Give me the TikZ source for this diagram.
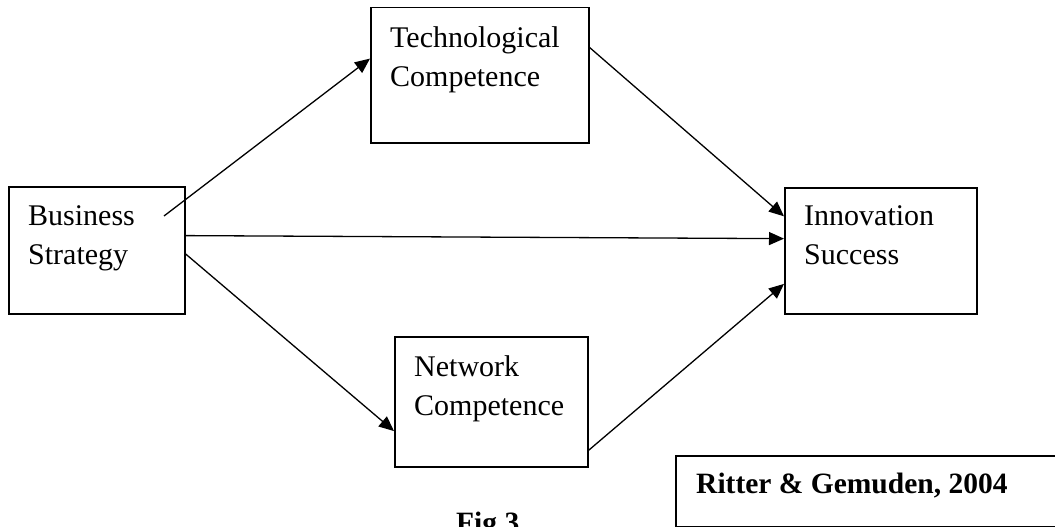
\documentclass[tikz,border=0pt]{standalone}
\usepackage{fontspec}
\setmainfont{Liberation Serif}
\usetikzlibrary{arrows.meta,calc}
\tikzset{
  box/.style={draw=black, line width=1.5pt, rectangle, inner sep=0pt, anchor=north west},
  txt/.style={inner sep=0pt, anchor=north west, align=left, font=\fontsize{30}{39.5}\selectfont},
  btxt/.style={inner sep=0pt, anchor=north west, align=left, font=\fontsize{29.5}{39.5}\selectfont\bfseries},
  arr/.style={draw=black, line width=1.3pt, -{Triangle[length=15pt,width=13pt]}},
}
\begin{document}
\begin{tikzpicture}[x=1pt,y=-1pt]
\useasboundingbox (0,0) rectangle (1055,527);
\clip (0,0) rectangle (1055,527);
\fill[white] (0,0) rectangle (1055,527);
% boxes
\node[box, minimum width=176pt, minimum height=127pt] (bs) at (8,186) {};
\node[box, minimum width=218pt, minimum height=135pt] (tc) at (370,7) {};
\node[box, minimum width=193pt, minimum height=130pt] (nc) at (394,336) {};
\node[box, minimum width=192pt, minimum height=126pt] (is) at (784,187) {};
\node[box, minimum width=400pt, minimum height=71pt] (rg) at (675,455) {};
% texts
\node[txt] (bst) at (28,205) {Business\\Strategy};
\node[txt] (tct) at (390,26) {Technological\\Competence};
\node[txt] (nct) at (414,355) {Network\\Competence};
\node[txt] (ist) at (804,205) {Innovation\\Success};
\node[btxt] (rgt) at (696,473) {Ritter \& Gemuden, 2004};
\node[btxt] (fig) at (456,512) {Fig 3};
% connectors
\coordinate (bsin) at (164,216);
\draw[arr] (bsin) -- ($(tc.north west)!0.378!(tc.south west)$);
\draw[arr] ($(bs.north east)!0.386!(bs.south east)$) -- ($(is.north west)!0.405!(is.south west)$);
\draw[arr] ($(bs.north east)!0.528!(bs.south east)$) -- ($(nc.north west)!0.723!(nc.south west)$);
\draw[arr] ($(tc.north east)!0.296!(tc.south east)$) -- ($(is.north west)!0.23!(is.south west)$);
\draw[arr] ($(nc.north east)!0.87!(nc.south east)$) -- ($(is.north west)!0.76!(is.south west)$);
\end{tikzpicture}
\end{document}
